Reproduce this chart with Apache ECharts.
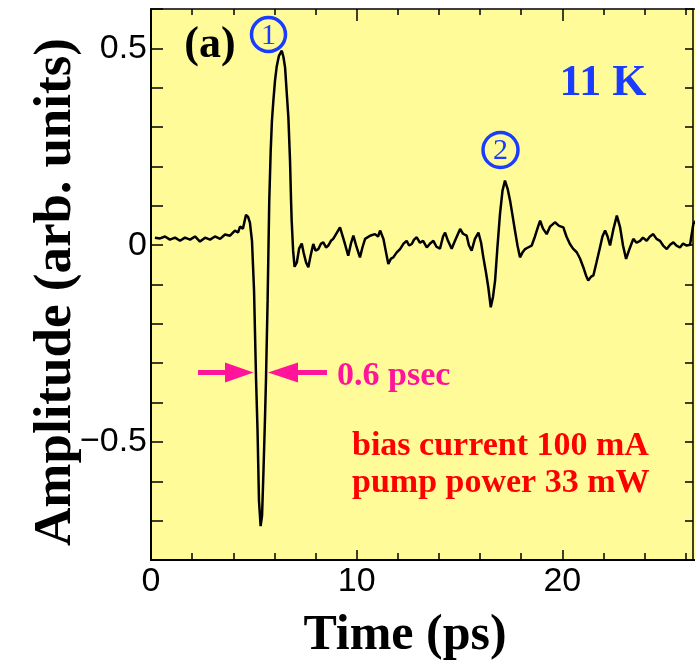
<!DOCTYPE html>
<html>
<head>
<meta charset="utf-8">
<script src="https://cdn.jsdelivr.net/npm/echarts@6/dist/echarts.min.js"></script>
<style>
  html, body { margin: 0; padding: 0; background: #fff; }
  #chart { width: 695px; height: 668px; }
</style>
</head>
<body>
<div id="chart"></div>
<script>
var times = [
  0.19,0.44,0.68,0.92,1.17,1.41,1.65,1.90,2.14,2.38,
  2.63,2.87,3.11,3.36,3.60,3.84,4.08,4.23,4.33,4.47,
  4.62,4.72,4.81,4.91,5.01,5.11,5.18,5.25,5.33,5.40,
  5.47,5.54,5.59,5.67,5.75,5.82,5.88,5.95,6.03,6.11,
  6.22,6.36,6.44,6.52,6.61,6.68,6.76,6.81,6.84,6.91,
  6.98,7.09,7.20,7.33,7.42,7.54,7.65,7.76,7.89,8.00,
  8.14,8.27,8.38,8.51,8.62,8.75,8.86,9.04,9.19,9.31,
  9.43,9.59,9.73,9.84,9.99,10.16,10.28,10.41,10.65,10.89,
  11.04,11.14,11.30,11.43,11.54,11.67,11.78,11.94,12.11,12.28,
  12.43,12.55,12.68,12.79,12.92,13.08,13.23,13.41,13.57,13.73,
  13.88,14.05,14.20,14.30,14.44,14.62,14.78,15.03,15.17,15.35,
  15.46,15.59,15.75,15.92,16.05,16.16,16.29,16.40,16.52,16.63,
  16.73,16.85,16.97,17.09,17.21,17.34,17.46,17.58,17.70,17.82,
  17.94,18.06,18.19,18.33,18.51,18.67,18.82,18.92,19.06,19.24,
  19.40,19.64,19.84,20.05,20.20,20.37,20.52,20.70,20.86,21.02,
  21.15,21.26,21.40,21.51,21.66,21.83,21.95,22.08,22.20,22.32,
  22.49,22.65,22.81,22.95,23.10,23.27,23.45,23.61,23.78,23.92,
  24.10,24.26,24.42,24.58,24.75,24.90,25.08,25.24,25.40,25.55,
  25.72,25.87,26.05,26.21,26.37,26.50
];
var amplitude = [
  0.019,0.017,0.022,0.014,0.019,0.011,0.019,0.014,0.022,0.009,
  0.019,0.014,0.022,0.016,0.027,0.024,0.037,0.032,0.047,0.042,
  0.077,0.072,0.057,0.011,-0.115,-0.344,-0.471,-0.649,-0.714,-0.687,
  -0.572,-0.445,-0.344,-0.141,0.113,0.240,0.316,0.367,0.418,0.453,
  0.481,0.494,0.478,0.451,0.379,0.324,0.214,0.113,0.062,-0.014,
  -0.055,-0.044,-0.009,0.004,-0.019,-0.044,-0.056,-0.027,0.003,-0.014,
  -0.010,0.004,0.007,-0.006,-0.001,0.011,0.016,0.032,0.045,0.024,
  0.003,-0.027,0.006,0.024,-0.004,-0.031,-0.006,0.016,0.024,0.028,
  0.022,0.037,0.016,-0.019,-0.048,-0.034,-0.031,-0.019,-0.010,0.004,
  0.011,-0.001,0.003,0.014,0.020,0.006,0.011,-0.006,0.004,0.011,
  -0.004,-0.009,0.022,0.032,0.011,-0.009,0.011,0.041,0.029,0.024,
  -0.001,-0.014,0.016,0.032,0.006,-0.031,-0.070,-0.107,-0.158,-0.131,
  -0.090,-0.001,0.080,0.138,0.164,0.143,0.113,0.075,0.036,-0.001,
  -0.031,-0.019,-0.010,-0.006,-0.001,0.022,0.047,0.062,0.042,0.028,
  0.047,0.058,0.049,0.045,0.022,0.003,-0.009,-0.018,-0.034,-0.056,
  -0.077,-0.090,-0.080,-0.077,-0.044,-0.006,0.022,0.037,0.022,-0.001,
  0.042,0.075,0.045,-0.001,-0.035,-0.009,0.016,0.006,0.011,0.019,
  0.011,0.022,0.028,0.016,0.011,-0.001,-0.010,0.001,0.007,-0.001,
  -0.006,0.004,-0.001,0.001,0.054,0.062
];
// tick labels that are printed
var xTickLabels = [0, 10, 20];
var yTickLabels = [-0.5, 0, 0.5];

var serif = '"Liberation Serif", "Times New Roman", serif';
var sans = '"Liberation Sans", Arial, sans-serif';
var blue = '#1a3cff';
var magenta = '#ff149a';

function pickLabel(list, v) {
    for (var i = 0; i < list.length; i++) {
        if (Math.abs(list[i] - v) < 1e-6) {
            return list[i] < 0 ? '\u2212' + Math.abs(list[i]) : String(list[i]);
        }
    }
    return '';
}

var myChart = echarts.init(document.getElementById('chart'));

var data = times.map(function (t, i) { return [t, amplitude[i]]; });

var option = {
    backgroundColor: '#fff',
    animation: false,
    grid: {
        left: 151,
        right: -73,   // axis runs on to 30 ps, picture is cut at ~26.5
        top: 9,
        bottom: 108,
        outerBoundsMode: 'none',
        containLabel: false,
        show: true,
        backgroundColor: '#fffb99',
        borderWidth: 0
    },
    xAxis: [{
        type: 'value',
        position: 'bottom',
        min: 0,
        max: 30,
        interval: 10,
        axisLine: { show: true, onZero: false, lineStyle: { color: '#000', width: 2 } },
        axisTick: { show: true, inside: true, length: 10, lineStyle: { color: '#000', width: 1.5 } },
        minorTick: { show: true, splitNumber: 5, length: 7, lineStyle: { color: '#000', width: 1.5 } },
        axisLabel: {
            margin: 5,
            color: '#000',
            fontFamily: sans,
            fontSize: 34,
            formatter: function (v) { return pickLabel(xTickLabels, v); }
        },
        splitLine: { show: false }
    }, {
        type: 'value',
        position: 'top',
        min: 0,
        max: 30,
        interval: 10,
        axisLine: { show: true, onZero: false, lineStyle: { color: '#000', width: 1.5 } },
        axisTick: { show: true, inside: true, length: 12, lineStyle: { color: '#000', width: 1.5 } },
        minorTick: { show: true, splitNumber: 5, length: 6, lineStyle: { color: '#000', width: 1.5 } },
        axisLabel: { show: false },
        splitLine: { show: false }
    }],
    yAxis: [{
        type: 'value',
        position: 'left',
        min: -0.8,
        max: 0.6,
        interval: 0.1,
        axisLine: { show: true, onZero: false, lineStyle: { color: '#000', width: 2 } },
        axisTick: { show: true, inside: true, length: 12, lineStyle: { color: '#000', width: 1.5 } },
        axisLabel: {
            margin: 4,
            color: '#000',
            fontFamily: sans,
            fontSize: 34,
            formatter: function (v) { return pickLabel(yTickLabels, v); }
        },
        splitLine: { show: false }
    }, {
        type: 'value',
        position: 'right',
        offset: -75,
        min: -0.8,
        max: 0.6,
        interval: 0.1,
        axisLine: { show: true, onZero: false, lineStyle: { color: '#000', width: 1.5 } },
        axisTick: { show: true, inside: true, length: 8, lineStyle: { color: '#000', width: 1.5 } },
        axisLabel: { show: false },
        splitLine: { show: false }
    }],
    series: [{
        type: 'line',
        data: data,
        showSymbol: false,
        smooth: false,
        lineStyle: { color: '#000', width: 2.5 }
    }],
    graphic: [
        { type: 'text', x: 56, y: 292, rotation: Math.PI / 2,
          style: { text: 'Amplitude (arb. units)', x: 0, y: 0, align: 'center', verticalAlign: 'middle',
                   font: 'bold 53px ' + serif, fill: '#000' } },
        { type: 'text', x: 405, y: 636,
          style: { text: 'Time (ps)', align: 'center', verticalAlign: 'middle',
                   font: 'bold 50px ' + serif, fill: '#000' } },
        { type: 'text', x: 210, y: 46,
          style: { text: '(a)', align: 'center', verticalAlign: 'middle',
                   font: 'bold 44px ' + serif, fill: '#000' } },
        { type: 'circle', shape: { cx: 268.5, cy: 34.5, r: 17 },
          style: { fill: 'none', stroke: blue, lineWidth: 3.5 } },
        { type: 'text', x: 268.5, y: 36,
          style: { text: '1', align: 'center', verticalAlign: 'middle',
                   font: '30px ' + serif, fill: blue } },
        { type: 'circle', shape: { cx: 500.5, cy: 150, r: 17.5 },
          style: { fill: 'none', stroke: blue, lineWidth: 3.5 } },
        { type: 'text', x: 500.5, y: 151.5,
          style: { text: '2', align: 'center', verticalAlign: 'middle',
                   font: '30px ' + serif, fill: blue } },
        { type: 'text', x: 603, y: 84,
          style: { text: '11 K', align: 'center', verticalAlign: 'middle',
                   font: 'bold 44px ' + serif, fill: blue } },
        // width marker arrows
        { type: 'line', shape: { x1: 198, y1: 372.5, x2: 230, y2: 372.5 },
          style: { stroke: magenta, lineWidth: 5 } },
        { type: 'polygon', shape: { points: [[225, 362.5], [253.5, 372.5], [225, 382.5]] },
          style: { fill: magenta } },
        { type: 'line', shape: { x1: 293, y1: 372.5, x2: 327, y2: 372.5 },
          style: { stroke: magenta, lineWidth: 5 } },
        { type: 'polygon', shape: { points: [[298, 362.5], [268, 372.5], [298, 382.5]] },
          style: { fill: magenta } },
        { type: 'text', x: 337, y: 376,
          style: { text: '0.6 psec', align: 'left', verticalAlign: 'middle',
                   font: 'bold 34px ' + serif, fill: magenta } },
        { type: 'text', x: 352, y: 446,
          style: { text: 'bias current 100 mA', align: 'left', verticalAlign: 'middle',
                   font: 'bold 34px ' + serif, fill: '#ff0000' } },
        { type: 'text', x: 352, y: 483,
          style: { text: 'pump power 33 mW', align: 'left', verticalAlign: 'middle',
                   font: 'bold 34px ' + serif, fill: '#ff0000' } }
    ]
};

myChart.setOption(option);
window.addEventListener('resize', function () {
    myChart.resize();
});
</script>
</body>
</html>
